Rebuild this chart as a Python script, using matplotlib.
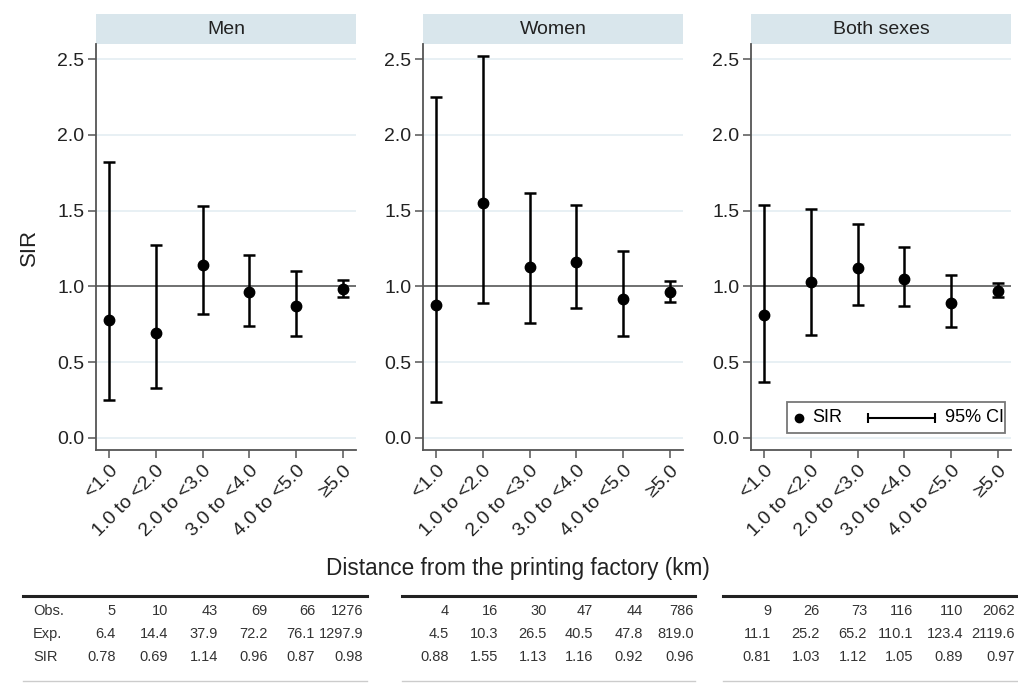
import matplotlib
matplotlib.use("Agg")
import matplotlib.pyplot as plt
from matplotlib.patches import Rectangle
from matplotlib.lines import Line2D

plt.rcParams['font.family'] = ['Liberation Sans', 'DejaVu Sans']

categories = ["<1.0", "1.0 to <2.0", "2.0 to <3.0", "3.0 to <4.0", "4.0 to <5.0", "≥5.0"]
panels = ["Men", "Women", "Both sexes"]

men_sir = [0.78, 0.69, 1.14, 0.96, 0.87, 0.98]
men_lo = [0.25, 0.33, 0.82, 0.74, 0.67, 0.93]
men_hi = [1.82, 1.27, 1.53, 1.21, 1.10, 1.04]

women_sir = [0.88, 1.55, 1.13, 1.16, 0.92, 0.96]
women_lo = [0.24, 0.89, 0.76, 0.855, 0.67, 0.895]
women_hi = [2.25, 2.52, 1.615, 1.54, 1.235, 1.035]

both_sir = [0.81, 1.03, 1.12, 1.05, 0.89, 0.97]
both_lo = [0.37, 0.68, 0.88, 0.87, 0.73, 0.93]
both_hi = [1.535, 1.51, 1.41, 1.26, 1.075, 1.02]

men_obs = ["5", "10", "43", "69", "66", "1276"]
men_exp = ["6.4", "14.4", "37.9", "72.2", "76.1", "1297.9"]
men_sirtxt = ["0.78", "0.69", "1.14", "0.96", "0.87", "0.98"]
women_obs = ["4", "16", "30", "47", "44", "786"]
women_exp = ["4.5", "10.3", "26.5", "40.5", "47.8", "819.0"]
women_sirtxt = ["0.88", "1.55", "1.13", "1.16", "0.92", "0.96"]
both_obs = ["9", "26", "73", "116", "110", "2062"]
both_exp = ["11.1", "25.2", "65.2", "110.1", "123.4", "2119.6"]
both_sirtxt = ["0.81", "1.03", "1.12", "1.05", "0.89", "0.97"]
row_labels = ["Obs.", "Exp.", "SIR"]

yticks = [0.0, 0.5, 1.0, 1.5, 2.0, 2.5]

W, H = 1018, 683
fig = plt.figure(figsize=(W / 100, H / 100), dpi=100)

series = [(men_sir, men_lo, men_hi), (women_sir, women_lo, women_hi), (both_sir, both_lo, both_hi)]
lefts = [96, 423, 751]
ax_w = 260
ax_top, ax_bot = 44, 450
strip_h = 30
xpos = list(range(1, len(categories) + 1))

axes = []
for i, (name, (sir, lo, hi)) in enumerate(zip(panels, series)):
    ax = fig.add_axes([lefts[i] / W, (H - ax_bot) / H, ax_w / W, (ax_bot - ax_top) / H])
    axes.append(ax)
    ax.set_xlim(0.72, 6.28)
    ax.set_ylim(-0.08, 2.6)
    ax.set_yticks(yticks)
    ax.set_yticklabels([f"{v:.1f}" for v in yticks], fontsize=14, color='#222')
    for v in yticks:
        ax.axhline(v, color='#e4eef2', lw=1.2, zorder=0)
    ax.axhline(1.0, color='#666666', lw=1.3, zorder=1)
    yerr = [[s - l for s, l in zip(sir, lo)], [h - s for s, h in zip(sir, hi)]]
    ax.errorbar(xpos, sir, yerr=yerr, fmt='o', color='black', ms=7.5,
                elinewidth=1.8, capsize=4, capthick=1.8, zorder=3)
    ax.set_xticks(xpos)
    ax.set_xticklabels(categories, rotation=45, ha='right', rotation_mode='anchor',
                       fontsize=14, color='#222')
    for s in ['top', 'right']:
        ax.spines[s].set_visible(False)
    for s in ['left', 'bottom']:
        ax.spines[s].set_color('#555555')
        ax.spines[s].set_linewidth(1.3)
    ax.tick_params(axis='both', length=5.5, width=1.1, color='#555555', pad=3)
    # strip title
    sh = strip_h / (ax_bot - ax_top)
    ax.add_patch(Rectangle((0, 1.0), 1, sh, transform=ax.transAxes, facecolor='#d9e6ec',
                           edgecolor='none', clip_on=False))
    ax.text(0.5, 1.0 + sh / 2, name, transform=ax.transAxes, ha='center', va='center',
            fontsize=14, color='#222')

axes[0].set_ylabel("SIR", fontsize=16, color='#222', labelpad=12)

# legend drawn in the Both sexes panel
lax = axes[2]
lax.add_patch(Rectangle((0.138, 0.042), 0.839, 0.076, transform=lax.transAxes,
                        facecolor='white', edgecolor='#777777', lw=1.3, zorder=5))
lax.plot([0.185], [0.08], 'o', color='black', ms=6, transform=lax.transAxes, zorder=6)
lax.text(0.235, 0.08, "SIR", transform=lax.transAxes, va='center', ha='left', fontsize=13, zorder=6)
lax.plot([0.45, 0.708], [0.08, 0.08], color='black', lw=1.5, transform=lax.transAxes, zorder=6)
lax.plot([0.45, 0.708], [0.08, 0.08], '|', color='black', ms=7, mew=1.5,
         transform=lax.transAxes, zorder=6)
lax.text(0.745, 0.08, "95% CI", transform=lax.transAxes, va='center', ha='left', fontsize=13, zorder=6)

fig.text(518 / W, 1 - 568 / H, "Distance from the printing factory (km)", ha='center',
         va='center', fontsize=16.3, color='#222')

# tables
tables = [(men_obs, men_exp, men_sirtxt), (women_obs, women_exp, women_sirtxt),
          (both_obs, both_exp, both_sirtxt)]
line_ext = [(23, 367), (402, 695), (723, 1018)]
col_right = [[116, 168, 218, 268, 315, 363], [449, 498, 547, 593, 643, 694],
             [771, 820, 867, 913, 963, 1015]]
row_y = [611, 634, 657]
for t, (rows, (x0, x1), cr) in enumerate(zip(tables, line_ext, col_right)):
    fig.add_artist(Line2D([x0 / W, x1 / W], [1 - 596 / H, 1 - 596 / H], color='#222', lw=2.2))
    fig.add_artist(Line2D([x0 / W, x1 / W], [1 - 681 / H, 1 - 681 / H], color='#cccccc', lw=1.0))
    for r, vals in enumerate(rows):
        for c, v in enumerate(vals):
            fig.text(cr[c] / W, 1 - row_y[r] / H, v, ha='right', va='center',
                     fontsize=10.5, color='#333')
        if t == 0:
            fig.text(33 / W, 1 - row_y[r] / H, row_labels[r], ha='left', va='center',
                     fontsize=10.5, color='#333')

fig.savefig("out.png", dpi=100)
